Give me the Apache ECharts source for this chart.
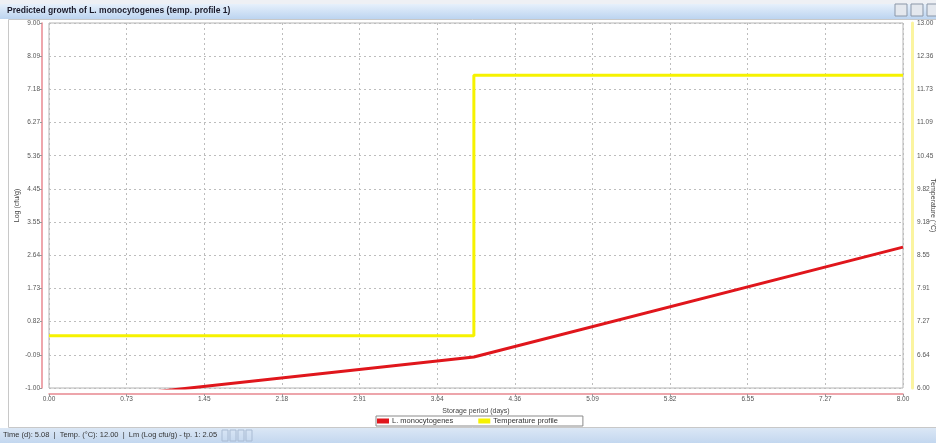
<!DOCTYPE html>
<html>
<head>
<meta charset="utf-8">
<script src="https://cdn.jsdelivr.net/npm/echarts@6/dist/echarts.min.js"></script>
<style>
  html, body { margin: 0; padding: 0; background: #fff; }
  #chart { width: 936px; height: 443px; }
</style>
</head>
<body>
<div id="chart"></div>
<script>
// storage period (days) and predicted L. monocytogenes (log cfu/g)
const lmTimes = [0, 3.98, 8];
const lmValues = [-1.42, -0.15, 2.86];

// temperature profile (°C), step change at ~4 days
const tempTimes = [0, 3.98, 8];
const tempValues = [7, 12, 12];

// axis ranges (11 intervals each, as in the source app)
const xRange = [0, 8];
const logRange = [-1, 9];
const tempRange = [6, 13];
const nSteps = 11;

const titleText = 'Predicted growth of L. monocytogenes (temp. profile 1)';
const statusText = 'Time (d): 5.08  |  Temp. (°C): 12.00  |  Lm (Log cfu/g) - tp. 1: 2.05';

const fontFam = '"Liberation Sans", "DejaVu Sans", sans-serif';
const lblStyle = { fontSize: 6.5, color: '#555', fontFamily: fontFam };
const fmt = v => v.toFixed(2);

const gridLine = { show: true, lineStyle: { color: '#bdbdbd', type: [2, 3], width: 1 } };

const chart = echarts.init(document.getElementById('chart'));
chart.setOption({
    animation: false,
    backgroundColor: '#fff',
    textStyle: { fontFamily: fontFam },
    grid: {
        left: 49, right: 33, top: 23, bottom: 55,
        outerBoundsMode: 'none',
        containLabel: false,
        show: true, borderColor: '#b4b4b4', borderWidth: 1,
    },
    legend: {
        left: 376, top: 416,
        padding: [1, 25, 1, 1], itemGap: 25,
        itemWidth: 12, itemHeight: 5,
        borderColor: '#8a8a8a', borderWidth: 1,
        textStyle: { fontSize: 7.5, color: '#333', padding: [0, 0, 0, -2] },
        data: [
            { name: 'L. monocytogenes', icon: 'rect' },
            { name: 'Temperature profile', icon: 'rect' },
        ],
    },
    xAxis: {
        type: 'value',
        min: xRange[0], max: xRange[1],
        interval: (xRange[1] - xRange[0]) / nSteps,
        offset: 6,
        name: 'Storage period (days)',
        nameLocation: 'middle', nameGap: 14,
        nameTextStyle: { fontSize: 7, color: '#444' },
        axisLine: { show: true, onZero: false, lineStyle: { color: '#e88890', width: 1.5 } },
        axisTick: { show: true, length: 2, lineStyle: { color: '#999' } },
        axisLabel: { ...lblStyle, margin: 2, formatter: fmt },
        splitLine: gridLine,
    },
    yAxis: [
        {
            type: 'value',
            min: logRange[0], max: logRange[1],
            interval: (logRange[1] - logRange[0]) / nSteps,
            offset: 7,
            name: 'Log (cfu/g)',
            nameLocation: 'middle', nameGap: 21, nameMoveOverlap: false,
            nameTextStyle: { fontSize: 7, color: '#444' },
            axisLine: { show: true, onZero: false, lineStyle: { color: '#e88890', width: 1.5 } },
            axisTick: { show: true, length: 2, lineStyle: { color: '#999' } },
            axisLabel: { ...lblStyle, margin: 2, formatter: fmt },
            splitLine: gridLine,
        },
        {
            type: 'value',
            position: 'right',
            min: tempRange[0], max: tempRange[1],
            interval: (tempRange[1] - tempRange[0]) / nSteps,
            offset: 9,
            name: 'Temperature (°C)',
            nameLocation: 'middle', nameGap: 17, nameRotate: -90, nameMoveOverlap: false,
            nameTextStyle: { fontSize: 7, color: '#444' },
            axisLine: { show: true, onZero: false, lineStyle: { color: '#fbf4a0', width: 3 } },
            axisTick: { show: false },
            axisLabel: { ...lblStyle, margin: 5, formatter: fmt },
            splitLine: { show: false },
        },
    ],
    series: [
        {
            name: 'L. monocytogenes',
            type: 'line',
            yAxisIndex: 0,
            showSymbol: false,
            clip: true,
            color: '#e0161c',
            lineStyle: { width: 3, color: '#e0161c' },
            data: lmTimes.map((t, i) => [t, lmValues[i]]),
            z: 3,
        },
        {
            name: 'Temperature profile',
            type: 'line',
            yAxisIndex: 1,
            step: 'end',
            showSymbol: false,
            color: '#f6f200',
            lineStyle: { width: 3, color: '#f6f200' },
            data: tempTimes.map((t, i) => [t, tempValues[i]]),
            z: 2,
        },
    ],
    graphic: [
        // window frame
        { type: 'rect', shape: { x: 8.5, y: 19.5, width: 940, height: 408 }, style: { fill: 'none', stroke: '#c8c8c8', lineWidth: 1 }, silent: true },
        // title bar
        {
            type: 'rect', shape: { x: 0, y: 0, width: 936, height: 4 },
            style: { fill: '#eef0f4' }, silent: true,
        },
        {
            type: 'rect', shape: { x: 0, y: 4, width: 936, height: 15 },
            style: {
                fill: new echarts.graphic.LinearGradient(0, 0, 0, 1, [
                    { offset: 0, color: '#e6f0fb' },
                    { offset: 1, color: '#bcd4f0' },
                ]),
            },
            silent: true,
        },
        {
            type: 'text', left: 7, top: 6,
            style: { text: titleText, fontSize: 8.5, fontWeight: 'bold', fill: '#1a1a2a', fontFamily: fontFam },
        },
        // toolbar buttons
        { type: 'rect', shape: { x: 895, y: 4, width: 12, height: 12 }, style: { fill: '#e4e8ee', stroke: '#8b97a8' } },
        { type: 'rect', shape: { x: 911, y: 4, width: 12, height: 12 }, style: { fill: '#e4e8ee', stroke: '#8b97a8' } },
        { type: 'rect', shape: { x: 927, y: 4, width: 12, height: 12 }, style: { fill: '#e4e8ee', stroke: '#8b97a8' } },
        // status bar
        {
            type: 'rect', shape: { x: 0, y: 428, width: 936, height: 15 },
            style: {
                fill: new echarts.graphic.LinearGradient(0, 0, 0, 1, [
                    { offset: 0, color: '#dbe7f5' },
                    { offset: 1, color: '#c3d7ef' },
                ]),
            },
            silent: true,
        },
        {
            type: 'text', left: 3, top: 431,
            style: { text: statusText, fontSize: 7.5, fill: '#333', fontFamily: fontFam },
        },
        { type: 'rect', shape: { x: 222, y: 430, width: 6, height: 11 }, style: { fill: 'none', stroke: '#a9bbd3' } },
        { type: 'rect', shape: { x: 230, y: 430, width: 6, height: 11 }, style: { fill: 'none', stroke: '#a9bbd3' } },
        { type: 'rect', shape: { x: 238, y: 430, width: 6, height: 11 }, style: { fill: 'none', stroke: '#a9bbd3' } },
        { type: 'rect', shape: { x: 246, y: 430, width: 6, height: 11 }, style: { fill: 'none', stroke: '#a9bbd3' } },
    ],
});
</script>
</body>
</html>
